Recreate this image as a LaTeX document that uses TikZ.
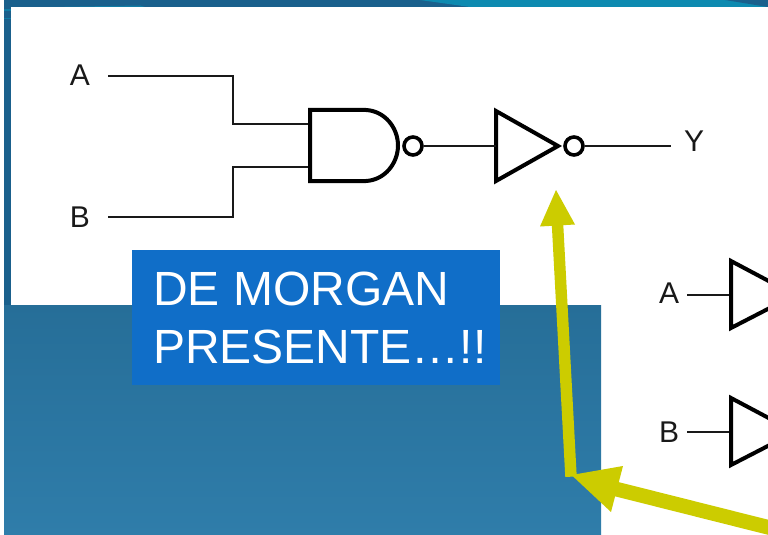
\documentclass[tikz,border=0pt]{standalone}
\usepackage{fontspec}
\setmainfont{Liberation Sans}
\definecolor{barblue}{RGB}{26,96,140}
\definecolor{bartop}{RGB}{13,138,176}
\definecolor{paneltop}{RGB}{38,110,152}
\definecolor{panelbot}{RGB}{47,125,170}
\definecolor{boxblue}{RGB}{16,110,200}
\definecolor{arrowy}{RGB}{204,204,0}
\definecolor{ink}{RGB}{25,25,25}
\tikzset{
 x=0.75pt,y=-0.75pt,
 wire/.style={draw=ink,line width=1.45pt},
 gate/.style={draw=black,line width=3pt,line join=miter,fill=white},
 bubble/.style={circle,draw=black,line width=2.7pt,fill=white,minimum size=13.5pt,inner sep=0pt},
 sig/.style={text=ink,font=\fontsize{22.5}{25}\selectfont,inner sep=0pt},
 jump/.style={draw=arrowy,line width=8.6pt},
 jumpb/.style={draw=arrowy,line width=11pt},
 jumphead/.style={fill=arrowy,draw=none},
 callout/.style={fill=boxblue,draw=none,minimum width=276pt,minimum height=101.25pt,inner sep=0pt},
 calltext/.style={text=white,inner sep=0pt,font=\fontsize{36}{43.5}\selectfont,align=left}
}
\begin{document}
\begin{tikzpicture}
\useasboundingbox (0,0) rectangle (768,535);
\fill[white] (0,0) rectangle (768,535);
% frame
\fill[barblue] (4,0) rectangle (768,7);
\fill[bartop] (420,0) -- (768,0) -- (768,7) -- (470,7) -- cycle;
\fill[barblue] (725,0) -- (768,0) -- (768,7) -- cycle;
\fill[bartop!70!barblue] (50,7) -- (140,5.5) -- (145,7) -- cycle;
\fill[barblue] (4,0) rectangle (11,305);
\fill[bartop!70!barblue] (4,9) rectangle (11,11);
\fill[bartop!70!barblue] (4,18) rectangle (11,19.5);
\shade[top color=paneltop,bottom color=panelbot] (4,305) rectangle (601,535);
% upper circuit
\node[sig] (a1) at (80,75) {A};
\node[sig] (b1) at (80,217) {B};
\node[sig] (y1) at (694,141) {Y};
\coordinate (a1s) at (108,76);
\coordinate (b1s) at (108,217);
\coordinate (y1e) at (671,146);
\coordinate (n1) at (310,124);
\coordinate (n2) at (310,167);
\coordinate (n3) at (496,146);
\draw[wire] (a1s) -- (233,76) -- (233,124) -- (n1);
\draw[wire] (b1s) -- (233,217) -- (233,167) -- (n2);
\draw[gate] (310,110) -- (366,110) .. controls (385,111) and (398,128) .. (398,145.5) .. controls (398,163) and (385,180) .. (366,181) -- (310,181) -- cycle;
\draw[gate] (496,111) -- (558,146) -- (496,181) -- cycle;
\node[bubble] (bub1) at (413,146) {};
\node[bubble] (bub2) at (574,146) {};
\draw[wire] (bub1) -- (n3);
\draw[wire] (bub2) -- (y1e);
% lower circuit
\node[sig] (a2) at (669,293.5) {A};
\node[sig] (b2) at (669,432) {B};
\coordinate (a2s) at (687,295);
\coordinate (b2s) at (687,432);
\coordinate (a2e) at (731,295);
\coordinate (b2e) at (731,432);
\draw[wire] (a2s) -- (a2e);
\draw[wire] (b2s) -- (b2e);
\draw[gate] (731,261) -- (795,295) -- (731,328) -- cycle;
\draw[gate] (731,398) -- (795,432) -- (731,465) -- cycle;
% callout
\node[callout,anchor=north west] (box) at (132,250) {};
\node[calltext,anchor=north west] (lbl) at (153,271.5) {DE MORGAN\\PRESENTE…!!};
% arrows
\coordinate (bend) at (571,476.7);
\coordinate (neck1) at (557.5,224);
\coordinate (tail) at (775,529);
\coordinate (neck2) at (616,489);
\draw[jump] (bend) -- (neck1);
\fill[jumphead] (556,190) -- (575,224.5) -- (540,226.5) -- cycle;
\draw[jumpb] (tail) -- (neck2);
\fill[jumphead] (571.5,475) -- (623,466) -- (611,512) -- cycle;
\end{tikzpicture}
\end{document}
